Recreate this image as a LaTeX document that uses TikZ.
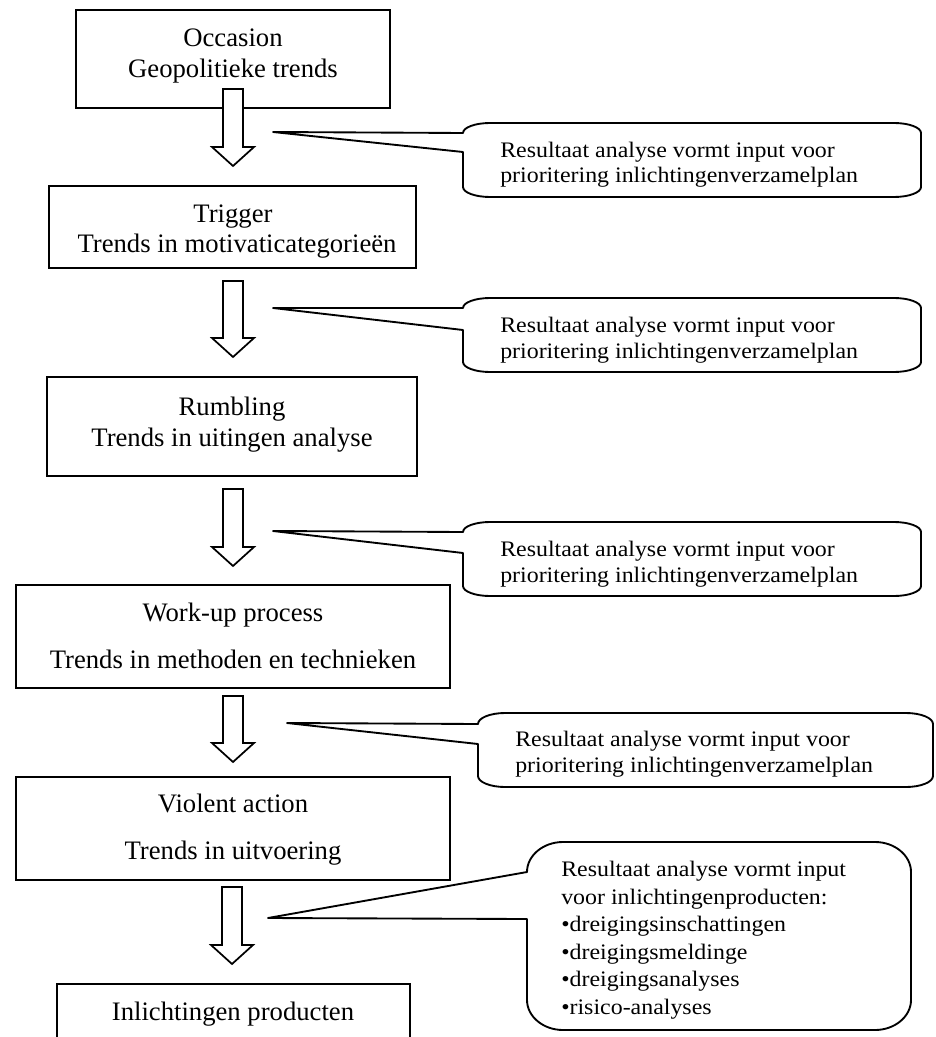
\documentclass[tikz,border=0pt]{standalone}
\usepackage{fontspec}
\setmainfont{Liberation Serif}
\newfontfamily\calloutfont[FakeStretch=1.08]{Liberation Serif}
\usetikzlibrary{fit}

% hollow block arrow: centre x, top of shaft, start of head
\newcommand{\hollowarrow}[3]{%
  \draw[blockarrow] (#1-10,#2) -- (#1+10,#2) -- (#1+10,#3) -- (#1+21,#3)
    -- (#1,#3+19) -- (#1-21,#3) -- (#1-10,#3) -- cycle;}

% rounded callout with a wedge pointer on its left side
% args: tip x, tip y, left, top, right, bottom, lower attach y, corner rx, corner ry
\newcommand{\notecallout}[9]{%
  \path[calloutline] (#1,#2) -- (#3,#4+#9)
    .. controls (#3,#4+0.45*#9) and (#3+0.45*#8,#4) .. (#3+#8,#4)
    -- (#5-#8,#4)
    .. controls (#5-0.45*#8,#4) and (#5,#4+0.45*#9) .. (#5,#4+#9)
    -- (#5,#6-#9)
    .. controls (#5,#6-0.45*#9) and (#5-0.45*#8,#6) .. (#5-#8,#6)
    -- (#3+#8,#6)
    .. controls (#3+0.45*#8,#6) and (#3,#6-0.45*#9) .. (#3,#6-#9)
    -- (#3,#7) -- cycle;}

\begin{document}
\begin{tikzpicture}[x=0.75pt,y=-0.75pt,
  stagebox/.style={draw, line width=1.3pt, fill=white, inner sep=0pt},
  stagetext/.style={anchor=base, inner sep=0pt, font=\fontsize{20}{24}\selectfont},
  notetext/.style={anchor=base west, inner sep=0pt, align=left,
    font=\calloutfont\fontsize{16.6}{19.1}\selectfont},
  calloutline/.style={draw, line width=1.4pt, fill=white, line join=round},
  blockarrow/.style={draw, line width=1.3pt, fill=white, line join=miter},
]
\useasboundingbox (0,0) rectangle (935,1037);
\clip (0,0) rectangle (935,1037);

% stage boxes
\node[stagebox, fit={(76,10) (390,108)}] (occasion) {};
\node[stagebox, fit={(49,186) (416,268)}] (trigger) {};
\node[stagebox, fit={(47,377) (417,476)}] (rumbling) {};
\node[stagebox, fit={(16,585) (450,688)}] (workup) {};
\node[stagebox, fit={(16,777) (450,880)}] (violent) {};
\node[stagebox, fit={(57,984) (410,1070)}] (products) {};

% stage texts
\node[stagetext] (occasion-a) at (233,47) {Occasion};
\node[stagetext] (occasion-b) at (233,78) {Geopolitieke trends};
\node[stagetext] (trigger-a) at (233,223) {Trigger};
\node[stagetext] (trigger-b) at (237,253) {Trends in motivaticategorieën};
\node[stagetext] (rumbling-a) at (232,415) {Rumbling};
\node[stagetext] (rumbling-b) at (232,446) {Trends in uitingen analyse};
\node[stagetext] (workup-a) at (233,621) {Work-up process};
\node[stagetext] (workup-b) at (233,668) {Trends in methoden en technieken};
\node[stagetext] (violent-a) at (233,812) {Violent action};
\node[stagetext] (violent-b) at (233,859) {Trends in uitvoering};
\node[stagetext] (products-a) at (233,1020) {Inlichtingen producten};

% block arrows between the stages
\hollowarrow{233}{89}{147}
\hollowarrow{233}{281}{338}
\hollowarrow{233}{489}{547}
\hollowarrow{233}{696}{743}
\hollowarrow{232}{887}{945}

% callouts
\notecallout{273}{132}{463}{123}{921}{197}{152}{27}{10}
\notecallout{273}{308}{463}{298}{921}{372}{330}{27}{10}
\notecallout{273}{531}{463}{522}{921}{596}{553}{27}{10}
\notecallout{287}{723}{478}{713}{933}{787}{744}{27}{11}
\notecallout{268}{918}{527}{842}{911}{1030}{919}{36}{30}

% callout texts (positioned at the baseline of their last line)
\node[notetext] (note-a) at (500,183)
  {Resultaat analyse vormt input voor\\prioritering inlichtingenverzamelplan};
\node[notetext] (note-b) at (500,358)
  {Resultaat analyse vormt input voor\\prioritering inlichtingenverzamelplan};
\node[notetext] (note-c) at (500,582)
  {Resultaat analyse vormt input voor\\prioritering inlichtingenverzamelplan};
\node[notetext] (note-d) at (515,772)
  {Resultaat analyse vormt input voor\\prioritering inlichtingenverzamelplan};
\node[notetext, font=\calloutfont\fontsize{16.6}{20.6}\selectfont] (note-e) at (561,1014)
  {Resultaat analyse vormt input\\voor inlichtingenproducten:\\•dreigingsinschattingen\\•dreigingsmeldinge\\•dreigingsanalyses\\•risico-analyses};
\end{tikzpicture}
\end{document}
